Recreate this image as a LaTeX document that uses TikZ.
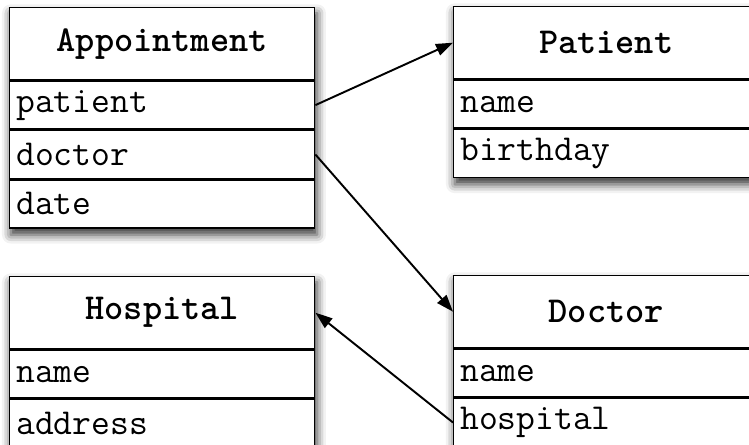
\documentclass[tikz,border=0pt]{standalone}
\usepackage{fontspec}
\usetikzlibrary{positioning,arrows.meta,fit,backgrounds,shadows.blur}

\tikzset{
  classhead/.style={draw,fill=white,line width=0.8pt,text width=5.84cm,inner xsep=0.13cm,inner ysep=0pt,
    minimum height=1.44cm,align=center,font=\ttfamily\bfseries\fontsize{20.8}{24}\selectfont},
  classrow/.style={draw,fill=white,line width=0.8pt,text width=5.84cm,inner xsep=0.13cm,inner ysep=0pt,
    minimum height=0.96cm,align=left,font=\ttfamily\fontsize{20.8}{24}\selectfont},
  classshadow/.style={inner sep=0pt,fill=white,
    blur shadow={shadow xshift=1pt,shadow yshift=-3.5pt,shadow blur radius=5pt,shadow opacity=80}},
  assoc/.style={line width=1.1pt,-{Triangle[length=0.34cm,width=0.24cm]}}
}

\begin{document}
\begin{tikzpicture}
\useasboundingbox (0,0) rectangle (14.98,8.9);
% Appointment
\node[classhead,anchor=north west] (appt) at (0.18,8.76) {Appointment};
\node[classrow,below=0pt of appt] (appt-patient) {patient};
\node[classrow,below=0pt of appt-patient] (appt-doctor) {doctor};
\node[classrow,below=0pt of appt-doctor] (appt-date) {date};
% Patient
\node[classhead,anchor=north west] (pat) at (9.06,8.78) {Patient};
\node[classrow,below=0pt of pat] (pat-name) {name};
\node[classrow,below=0pt of pat-name] (pat-birthday) {birthday};
% Hospital
\node[classhead,anchor=north west] (hosp) at (0.18,3.38) {Hospital};
\node[classrow,below=0pt of hosp] (hosp-name) {name};
\node[classrow,below=0pt of hosp-name] (hosp-address) {address};
% Doctor
\node[classhead,anchor=north west] (doc) at (9.06,3.40) {Doctor};
\node[classrow,below=0pt of doc] (doc-name) {name};
\node[classrow,below=0pt of doc-name] (doc-hospital) {hospital};

\begin{scope}[on background layer]
\node[classshadow,fit=(appt)(appt-date)] {};
\node[classshadow,fit=(pat)(pat-birthday)] {};
\node[classshadow,fit=(hosp)(hosp-address)] {};
\node[classshadow,fit=(doc)(doc-hospital)] {};
\end{scope}

\draw[assoc] (appt-patient.east) -- (pat.west);
\draw[assoc] (appt-doctor.east) -- (doc.west);
\draw[assoc] (doc-hospital.west) -- (hosp.east);
\end{tikzpicture}
\end{document}
